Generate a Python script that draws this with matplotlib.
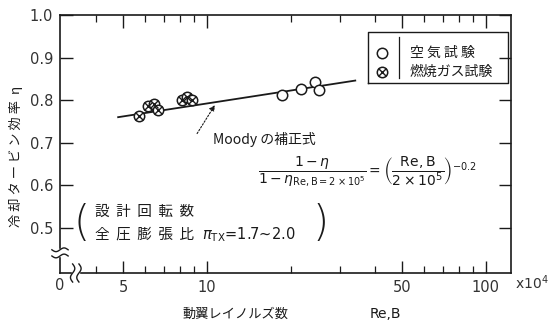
import numpy as np
import matplotlib
matplotlib.use("Agg")
import matplotlib.pyplot as plt

plt.rcParams['font.family'] = ['DejaVu Sans', 'Noto Sans CJK JP']
plt.rcParams['mathtext.fontset'] = 'dejavusans'

JP = ['Noto Sans CJK JP', 'DejaVu Sans']
INK = '#1a1a1a'

# Reynolds number (x10^4) and cooled turbine efficiency
air_re = [18.6, 21.7, 24.4, 25.2]
air_eta = [0.812, 0.826, 0.843, 0.824]

gas_re = [5.7, 6.15, 6.45, 6.65, 8.1, 8.5, 8.85]
gas_eta = [0.763, 0.786, 0.792, 0.776, 0.800, 0.808, 0.800]

# Moody correction line end points
moody_re = [4.8, 34.0]
moody_eta = [0.760, 0.846]

x_major = [5, 10, 50, 100]
x_minor = [4, 6, 7, 8, 9, 20, 30, 40, 60, 70, 80, 90]
y_ticks = [0.5, 0.6, 0.7, 0.8, 0.9, 1.0]

fig = plt.figure(figsize=(5.5, 3.3), dpi=100)
ax = fig.add_axes([60 / 550, 57 / 330, 451 / 550, 258 / 330])

ax.set_xscale('log')
ax.set_xlim(2.97, 123)
ax.set_ylim(0.394, 1.0)

# correction line, markers drawn on top with white fill
ax.plot(moody_re, moody_eta, color=INK, lw=1.3, zorder=2)

ms = 7.5
ax.plot(air_re, air_eta, 'o', ms=ms, mfc='white', mec=INK, mew=1.1, zorder=3)
ax.plot(gas_re, gas_eta, 'o', ms=ms, mfc='white', mec=INK, mew=1.1, zorder=3)
ax.plot(gas_re, gas_eta, 'x', ms=ms * 0.68, mec=INK, mew=1.0, zorder=4)

# ticks
ax.set_xticks(x_major)
ax.set_xticklabels([str(v) for v in x_major])
ax.set_xticks(x_minor, minor=True)
ax.xaxis.set_minor_formatter(plt.NullFormatter())
ax.set_yticks(y_ticks)
ax.set_yticklabels([f'{v:.1f}' for v in y_ticks])
ax.tick_params(which='both', direction='in', top=True, right=True,
               colors=INK, labelcolor='#333333', labelsize=10.5)
ax.tick_params(which='major', length=9, width=1.0, pad=5)
ax.tick_params(which='minor', length=5, width=0.9)
for s in ax.spines.values():
    s.set_linewidth(1.2)
    s.set_color(INK)

# axis breaks near the origin
def squiggle(x0, y0, vertical):
    t = np.linspace(-1, 1, 30)
    w = 0.012 * np.sin(t * np.pi)
    if vertical:
        ax.plot([x0 - 0.004, x0 + 0.004], [y0, y0], color='white', lw=6,
                transform=ax.transAxes, clip_on=False, zorder=5)
        for dy in (-0.012, 0.012):
            ax.plot(x0 + t * 0.018, y0 + dy + w * 0.6, color=INK, lw=1.0,
                    transform=ax.transAxes, clip_on=False, zorder=6)
    else:
        ax.plot([x0, x0], [y0 - 0.01, y0 + 0.01], color='white', lw=6,
                transform=ax.transAxes, clip_on=False, zorder=5)
        for dx in (-0.007, 0.007):
            ax.plot(x0 + dx + w * 0.4, y0 + t * 0.035, color=INK, lw=1.0,
                    transform=ax.transAxes, clip_on=False, zorder=6)

squiggle(0.0, 0.078, True)
squiggle(0.035, 0.0, False)

fig.text(60 / 550, 1 - 286 / 330, '0', ha='center', va='center',
         fontsize=10.5, color='#333333')
fig.text(515 / 550, 1 - 283 / 330, 'x10$^4$', ha='left', va='center',
         fontsize=10, color='#333333')

# axis labels
fig.text(235 / 550, 1 - 314 / 330, '動翼レイノルズ数', ha='center', va='center',
         fontsize=9.5, family=JP, color=INK)
fig.text(385 / 550, 1 - 314 / 330, 'Re,B', ha='center', va='center',
         fontsize=10, color=INK)
fig.text(16 / 550, 1 - 156 / 330, '冷 却 タ ー ビ ン 効 率  η', rotation=90,
         ha='center', va='center', fontsize=9.5, family=JP, color=INK)

# legend box
lx0, lx1, ly0, ly1 = 0.683, 0.993, 0.736, 0.934
ax.plot([lx0, lx1, lx1, lx0, lx0], [ly0, ly0, ly1, ly1, ly0], color=INK,
        lw=1.0, transform=ax.transAxes, zorder=5)
ax.plot([0.752, 0.752], [ly0 + 0.02, ly1 - 0.02], color=INK, lw=0.9,
        transform=ax.transAxes, zorder=5)
ax.plot([0.714], [0.853], 'o', ms=ms, mfc='white', mec=INK, mew=1.1,
        transform=ax.transAxes, zorder=6)
ax.plot([0.714], [0.779], 'o', ms=ms, mfc='white', mec=INK, mew=1.1,
        transform=ax.transAxes, zorder=6)
ax.plot([0.714], [0.779], 'x', ms=ms * 0.68, mec=INK, mew=1.0,
        transform=ax.transAxes, zorder=7)
ax.text(0.776, 0.853, '空 気 試 験', transform=ax.transAxes, va='center',
        fontsize=10, family=JP, color=INK)
ax.text(0.776, 0.779, '燃焼ガス試験', transform=ax.transAxes, va='center',
        fontsize=10, family=JP, color=INK)

# Moody correction note
ax.annotate('', xy=(10.8, 0.794), xytext=(9.1, 0.716),
            arrowprops=dict(arrowstyle='-|>', color=INK, lw=0.8,
                            linestyle=(0, (1.5, 1.5)), mutation_scale=8))
ax.text(10.5, 0.707, 'Moody の補正式', va='center', ha='left',
        fontsize=10, family=JP, color=INK)
ax.text(37.5, 0.632,
        r'$\dfrac{1-\eta}{1-\eta_{\mathrm{Re,B}=2\times10^5}}'
        r'=\left(\dfrac{\mathrm{Re,B}}{2\times10^5}\right)^{-0.2}$',
        ha='center', va='center', fontsize=10, color=INK)

# design-point note in parentheses
ax.text(3.55, 0.51, '(', ha='center', va='center', fontsize=30,
        color=INK, fontweight='light')
ax.text(25.5, 0.51, ')', ha='center', va='center', fontsize=30,
        color=INK, fontweight='light')
ax.text(3.97, 0.538, '設  計  回  転  数', va='center', ha='left',
        fontsize=10.5, family=JP, color=INK)
ax.text(3.97, 0.484, '全  圧  膨  張  比', va='center', ha='left',
        fontsize=10.5, family=JP, color=INK)
ax.text(9.6, 0.484, r'$\pi_{\mathrm{TX}}$=1.7~2.0', va='center', ha='left',
        fontsize=10.5, color=INK)

fig.savefig('out.png', dpi=100)
